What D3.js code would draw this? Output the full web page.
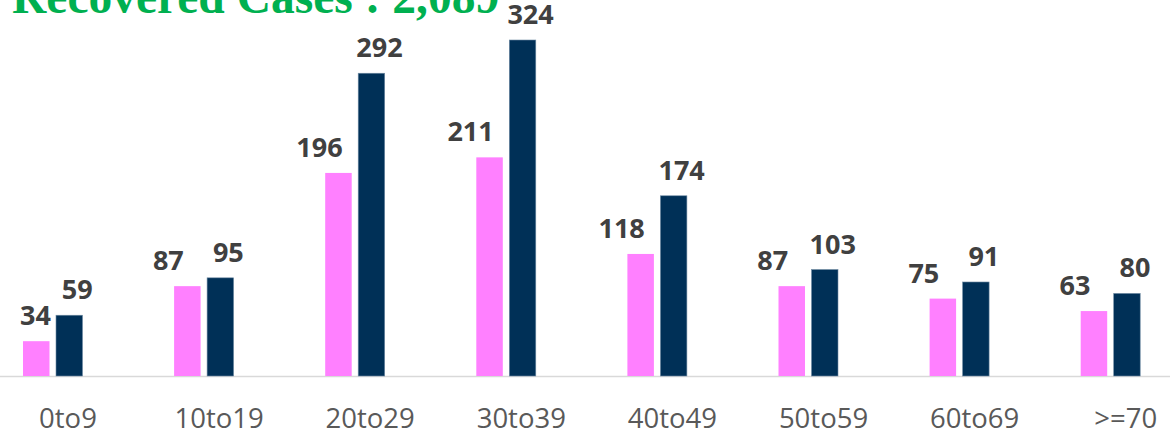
<!DOCTYPE html>
<html>
<head>
    <meta charset="utf-8">
    <script src="https://cdn.jsdelivr.net/npm/d3@7/dist/d3.min.js"></script>
    <style>
        body { margin: 0; background: #fff; }
        svg { display: block; }
    </style>
</head>
<body>
    <div id="chart"></div>
    <script>
        // age groups and recovered counts (pink = female, navy = male)
        var ageGroups = ['0to9', '10to19', '20to29', '30to39', '40to49', '50to59', '60to69', '>=70'];
        var female = [34, 87, 196, 211, 118, 87, 75, 63];
        var male = [59, 95, 292, 324, 174, 103, 91, 80];
        var seriesNames = ['female', 'male'];
        var titleText = 'Recovered Cases : 2,089';

        var W = 1170, H = 436;
        var baseY = 376.5;
        var step = 151.1, firstCenter = 68;

        var svg = d3.select('#chart').append('svg')
            .attr('width', W).attr('height', H);

        var x = d3.scaleBand()
            .domain(ageGroups)
            .range([firstCenter - step / 2, firstCenter + step * (ageGroups.length - 0.5)]);

        var x1 = d3.scaleBand()
            .domain(seriesNames)
            .range([-45, 14.5])
            .paddingInner(0.197);

        var y = d3.scaleLinear().domain([0, 324]).range([baseY, 40]);

        var colors = { female: '#FF80FF', male: '#003057' };
        var labelDx = { female: -19, male: 8 };

        var rows = ageGroups.map(function (g, i) {
            return { group: g, female: female[i], male: male[i] };
        });

        // axis line
        svg.append('line')
            .attr('x1', 0).attr('x2', W)
            .attr('y1', baseY).attr('y2', baseY)
            .attr('stroke', '#d9d9d9').attr('stroke-width', 1.5);

        var groups = svg.selectAll('g.grp').data(rows).enter().append('g')
            .attr('class', 'grp')
            .attr('transform', function (d) { return 'translate(' + (x(d.group) + x.bandwidth() / 2) + ',0)'; });

        groups.selectAll('rect').data(function (d) {
            return seriesNames.map(function (s) { return { s: s, v: d[s] }; });
        }).enter().append('rect')
            .attr('x', function (d) { return x1(d.s); })
            .attr('y', function (d) { return y(d.v); })
            .attr('width', x1.bandwidth())
            .attr('height', function (d) { return baseY - y(d.v) - 0.5; })
            .attr('fill', function (d) { return colors[d.s]; })
            .attr('stroke', function (d) { return d.s == 'male' ? '#6f8ba3' : 'none'; })
            .attr('stroke-width', 0.6);

        groups.selectAll('text.val').data(function (d) {
            return seriesNames.map(function (s) { return { s: s, v: d[s] }; });
        }).enter().append('text')
            .attr('class', 'val')
            .attr('x', function (d) { return x1(d.s) + x1.bandwidth() / 2 + labelDx[d.s]; })
            .attr('y', function (d) { return y(d.v) - 16; })
            .attr('text-anchor', 'middle')
            .attr('font-family', 'Open Sans, sans-serif')
            .attr('font-weight', 'bold')
            .attr('font-size', '27px')
            .attr('fill', '#404040')
            .text(function (d) { return d.v; });

        // keep labels off the left edge (first label sits over its bar)
        svg.selectAll('text.val').each(function () {
            var b = this.getBBox();
            var gx = d3.select(this.parentNode).datum();
            var left = x(gx.group) + x.bandwidth() / 2 + b.x;
            if (left < 20) {
                d3.select(this).attr('x', +d3.select(this).attr('x') + (20 - left));
            }
        });

        // category labels
        svg.selectAll('text.cat').data(ageGroups).enter().append('text')
            .attr('class', 'cat')
            .attr('x', function (d) { return x(d) + x.bandwidth() / 2; })
            .attr('y', 428)
            .attr('text-anchor', 'middle')
            .attr('font-family', 'Open Sans, sans-serif')
            .attr('font-size', '27.5px')
            .attr('fill', '#595959')
            .text(function (d) { return d; });

        // title, cut off at top like the source
        svg.append('text')
            .attr('x', 12).attr('y', 13)
            .attr('font-family', 'Liberation Serif, Times New Roman, serif')
            .attr('font-weight', 'bold')
            .attr('font-size', '47.5px')
            .attr('fill', '#00B050')
            .text(titleText);
    </script>
</body>
</html>
